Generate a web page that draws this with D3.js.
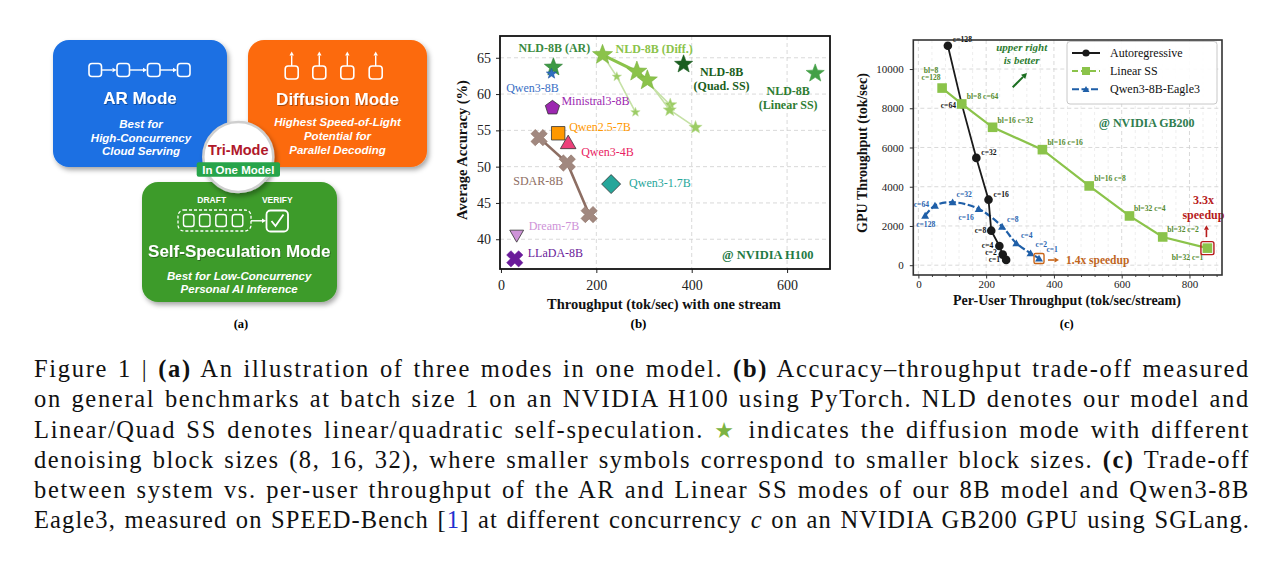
<!DOCTYPE html>
<html><head><meta charset="utf-8">
<script src="https://cdn.jsdelivr.net/npm/d3@7"></script>
<style>
html,body{margin:0;padding:0;background:#fff}
body{width:1280px;height:571px;overflow:hidden;position:relative}
#caption{position:absolute;left:34px;top:354px;width:1216px;font-family:"Liberation Serif","Times New Roman",serif;font-size:24.5px;line-height:30.3px;color:#111}
#caption div{text-align:left;text-align-last:left;height:30.3px;white-space:nowrap}
#caption div.just{text-align:justify;text-align-last:justify;white-space:normal}
#caption .ref{color:#1f2fd0}
#caption .star{color:#7cb342;font-family:"DejaVu Sans",sans-serif;font-size:22px}
</style>
</head><body>
<div id="caption">
<div>Figure 1 | <b>(a)</b> An illustration of three modes in one model. <b>(b)</b> Accuracy–throughput trade-off measured</div>
<div>on general benchmarks at batch size 1 on an NVIDIA H100 using PyTorch. NLD denotes our model and</div>
<div>Linear/Quad SS denotes linear/quadratic self-speculation. <span class="star">★</span> indicates the diffusion mode with different</div>
<div>denoising block sizes (8, 16, 32), where smaller symbols correspond to smaller block sizes. <b>(c)</b> Trade-off</div>
<div>between system vs. per-user throughput of the AR and Linear SS modes of our 8B model and Qwen3-8B</div>
<div>Eagle3, measured on SPEED-Bench [<span class="ref">1</span>] at different concurrency <i>c</i> on an NVIDIA GB200 GPU using SGLang.</div>
</div>
<script>
// ---------------- DATA: panel (b) ----------------
const bXTicks = [0, 200, 400, 600];
const bYTicks = [40, 45, 50, 55, 60, 65];
const bModels = ["Qwen3-8B", "Ministral3-8B", "Qwen2.5-7B", "Qwen3-4B", "Qwen3-1.7B", "Dream-7B", "LLaDA-8B"];
const bThroughput = [106, 108, 120, 141, 231, 33, 29];
const bAccuracy = [62.8, 58.1, 54.6, 53.1, 47.6, 40.7, 37.3];
const sdarName = "SDAR-8B";
const sdarThroughput = [80, 139, 185];
const sdarAccuracy = [54.0, 50.5, 43.4];
const nldModes = ["NLD-8B (AR)", "NLD-8B (Quad. SS)", "NLD-8B (Linear SS)"];
const nldThroughput = [110, 383, 659];
const nldAccuracy = [63.7, 64.1, 62.85];
const diffName = "NLD-8B (Diff.)";
const diffThroughput = [213, 285, 307];
const diffAccuracy = [65.4, 63.1, 61.9];
const diffTrailThroughput = [[213, 243, 282], [285, 355], [307, 354, 408]];
const diffTrailAccuracy = [[65.4, 62.4, 57.5], [63.1, 58.5], [61.9, 57.8, 55.4]];

// ---------------- DATA: panel (c) ----------------
const cXTicks = [0, 200, 400, 600, 800];
const cYTicks = [0, 2000, 4000, 6000, 8000, 10000];
const seriesNames = ["Autoregressive", "Linear SS", "Qwen3-8B-Eagle3"];
const arLabels = ["c=128", "c=64", "c=32", "c=16", "c=8", "c=4", "c=2", "c=1"];
const arPerUser = [87, 128, 171, 207, 215, 239, 249, 259];
const arGpu = [11190, 8210, 5470, 3340, 1760, 980, 540, 270];
const ssLabels = ["bl=8 c=128", "bl=8 c=64", "bl=16 c=32", "bl=16 c=16", "bl=16 c=8", "bl=32 c=4", "bl=32 c=2", "bl=32 c=1"];
const ssPerUser = [70, 128, 219, 366, 504, 623, 721, 853];
const ssGpu = [9030, 8220, 7030, 5890, 4040, 2510, 1440, 870];
const eagleLabels = ["c=128", "c=64", "c=32", "c=16", "c=8", "c=4", "c=2", "c=1"];
const eaglePerUser = [20, 49, 101, 178, 247, 289, 331, 356];
const eagleGpu = [2530, 3040, 3210, 2870, 1970, 1120, 610, 340];

// ---------------- caption fitting ----------------
document.querySelectorAll("#caption div").forEach(div=>{
  const span=document.createElement("span");
  while(div.firstChild) span.appendChild(div.firstChild);
  div.appendChild(span);
  const w=span.getBoundingClientRect().width;
  const n=span.textContent.length;
  const ls=Math.max(0,(1216-w)/n*0.85);
  span.style.letterSpacing=ls.toFixed(3)+"px";
  div.classList.add("just");
});

// ---------------- helpers ----------------
const SERIF = "'Liberation Serif','Times New Roman',serif";
const SANS = "'Liberation Sans',Arial,Helvetica,sans-serif";
function starPath(R){const r=R*0.42;const p=[];for(let i=0;i<10;i++){const a=-Math.PI/2+i*Math.PI/5;const rr=i%2?r:R;p.push([rr*Math.cos(a),rr*Math.sin(a)]);}return "M"+p.map(d=>d[0].toFixed(2)+","+d[1].toFixed(2)).join("L")+"Z";}
function polyPath(n,R,rot){const p=[];for(let i=0;i<n;i++){const a=-Math.PI/2+rot+i*2*Math.PI/n;p.push([R*Math.cos(a),R*Math.sin(a)]);}return "M"+p.map(d=>d[0].toFixed(2)+","+d[1].toFixed(2)).join("L")+"Z";}
function xPath(R){const t=0.36;const base=[[t,1],[t,t],[1,t],[1,-t],[t,-t],[t,-1],[-t,-1],[-t,-t],[-1,-t],[-1,t],[-t,t],[-t,1]];const c=Math.SQRT1_2;return "M"+base.map(([x,y])=>[(x*c-y*c)*R,(x*c+y*c)*R].map(v=>v.toFixed(2)).join(",")).join("L")+"Z";}
function arrow(g,x1,y1,x2,y2,color,w,h){const a=Math.atan2(y2-y1,x2-x1);const bx=x2-h*Math.cos(a),by=y2-h*Math.sin(a);
 g.append("line").attr("x1",x1).attr("y1",y1).attr("x2",bx).attr("y2",by).attr("stroke",color).attr("stroke-width",w);
 const p=[[x2,y2],[bx+h*0.55*Math.sin(a),by-h*0.55*Math.cos(a)],[bx-h*0.55*Math.sin(a),by+h*0.55*Math.cos(a)]];
 g.append("path").attr("d","M"+p.map(d=>d.join(",")).join("L")+"Z").attr("fill",color);}
function txt(g,x,y,s,o){const e=g.append("text").attr("x",x).attr("y",y).text(s)
 .attr("font-family",o.ff||SERIF).attr("font-size",o.fs||12).attr("fill",o.fill||"#000")
 .attr("text-anchor",o.anchor||"middle").attr("dominant-baseline","central");
 if(o.bold)e.attr("font-weight","bold"); if(o.italic)e.attr("font-style","italic"); if(o.rot)e.attr("transform",`rotate(${o.rot},${x},${y})`); if(o.filter)e.attr("filter",o.filter); return e;}

const svg = d3.select("body").append("svg").attr("width",1280).attr("height",571)
  .style("position","absolute").style("left","0").style("top","0");
const defs = svg.append("defs");
const sh = defs.append("filter").attr("id","shadow").attr("x","-20%").attr("y","-20%").attr("width","140%").attr("height","150%");
sh.append("feDropShadow").attr("dx",2).attr("dy",3).attr("stdDeviation",2.5).attr("flood-color","#000").attr("flood-opacity",0.35);
const tsh = defs.append("filter").attr("id","tshadow").attr("x","-10%").attr("y","-30%").attr("width","120%").attr("height","160%");
tsh.append("feDropShadow").attr("dx",0.8).attr("dy",1).attr("stdDeviation",0.6).attr("flood-color","#000").attr("flood-opacity",0.35);

// ================= PANEL (a) =================
const A = svg.append("g");
function box(x,y,w,h,fill){A.append("rect").attr("x",x).attr("y",y).attr("width",w).attr("height",h).attr("rx",16).attr("fill",fill).attr("filter","url(#shadow)");}
box(53,40,174,127,"#1a6fe3");
box(248,40,179,127,"#fc6b0c");
box(142,182,195,120,"#3e9b2c");
const W = "#fff";
[89,117,147.5,177.5].forEach((x,i,arr)=>{
  A.append("rect").attr("x",x).attr("y",63.5).attr("width",12.5).attr("height",13).attr("rx",3).attr("fill","none").attr("stroke",W).attr("stroke-width",1.6);
  if(i<arr.length-1) arrow(A,x+12.5,70,arr[i+1]-0.5,70,W,1.4,4);
});
txt(A,140,98,"AR Mode",{ff:SANS,fs:17,bold:true,fill:W,filter:"url(#tshadow)"});
["Best for","High-Concurrency","Cloud Serving"].forEach((s,i)=>txt(A,141,124.3+i*13.4,s,{ff:SANS,fs:11.5,bold:true,italic:true,fill:W}));
[291.7,319.3,347.3,375.7].forEach(c=>{
  A.append("rect").attr("x",c-6.5).attr("y",66).attr("width",13).attr("height",13).attr("rx",3).attr("fill","none").attr("stroke",W).attr("stroke-width",1.6);
  arrow(A,c,66,c,51.5,W,1.4,4);
});
txt(A,337.5,99,"Diffusion Mode",{ff:SANS,fs:17,bold:true,fill:W,filter:"url(#tshadow)"});
["Highest Speed-of-Light","Potential for","Parallel Decoding"].forEach((s,i)=>txt(A,337.5,122.3+i*13.8,s,{ff:SANS,fs:11.5,bold:true,italic:true,fill:W}));
A.append("rect").attr("x",178).attr("y",210).attr("width",73).attr("height",21).attr("rx",6).attr("fill","none").attr("stroke",W).attr("stroke-width",1.3).attr("stroke-dasharray","3,2");
[183.5,199.5,215.8,232.3].forEach(x=>A.append("rect").attr("x",x).attr("y",214.5).attr("width",10.5).attr("height",12).attr("rx",2.5).attr("fill","none").attr("stroke",W).attr("stroke-width",1.4));
arrow(A,251,220.8,266,220.8,W,1.4,4);
A.append("rect").attr("x",266.5).attr("y",210.5).attr("width",21.5).attr("height",21).attr("rx",4).attr("fill","none").attr("stroke",W).attr("stroke-width",1.8);
A.append("path").attr("d","M271.5,221 L275.5,226 L283.5,214.5").attr("fill","none").attr("stroke",W).attr("stroke-width",1.8);
txt(A,211.7,200,"DRAFT",{ff:SANS,fs:8.5,bold:true,fill:W});
txt(A,277.3,200,"VERIFY",{ff:SANS,fs:8.5,bold:true,fill:W});
txt(A,239.2,251,"Self-Speculation Mode",{ff:SANS,fs:17,bold:true,fill:W,filter:"url(#tshadow)"});
["Best for Low-Concurrency","Personal AI Inference"].forEach((s,i)=>txt(A,239.2,275.8+i*13.4,s,{ff:SANS,fs:11.5,bold:true,italic:true,fill:W}));
A.append("circle").attr("cx",238.3).attr("cy",157).attr("r",35).attr("fill","#fff").attr("stroke","#cfcfcf").attr("stroke-width",2.5).attr("filter","url(#shadow)");
txt(A,238.3,150,"Tri-Mode",{ff:SANS,fs:14.5,bold:true,fill:"#b0182a"});
A.append("rect").attr("x",196.7).attr("y",162.3).attr("width",83.3).attr("height",14.5).attr("rx",2).attr("fill","#27a44a");
txt(A,238.3,169.7,"In One Model",{ff:SANS,fs:11.5,bold:true,fill:W});
txt(A,241,323.5,"(a)",{fs:12.5,bold:true});

// ================= PANEL (b) =================
const B = svg.append("g");
const bL=500,bR=830,bT=36,bB=269;
const xB = d3.scaleLinear().domain([-2,690]).range([bL,bR]);
const yB = d3.scaleLinear().domain([35.9,68]).range([bB,bT]);
B.append("rect").attr("x",bL).attr("y",bT).attr("width",bR-bL).attr("height",bB-bT).attr("fill","#fff");
B.selectAll(".gx").data(bXTicks.filter(d=>d>0)).join("line").attr("x1",d=>xB(d)).attr("x2",d=>xB(d)).attr("y1",bT).attr("y2",bB)
 .attr("stroke","#cfcfcf").attr("stroke-width",0.8).attr("stroke-dasharray","4,3");
B.selectAll(".gy").data(bYTicks).join("line").attr("y1",d=>yB(d)).attr("y2",d=>yB(d)).attr("x1",bL).attr("x2",bR)
 .attr("stroke","#cfcfcf").attr("stroke-width",0.8).attr("stroke-dasharray","4,3");
const bxAxis = B.append("g").attr("transform",`translate(0,${bB})`).call(d3.axisBottom(xB).tickValues(bXTicks).tickSize(4).tickPadding(7));
const byAxis = B.append("g").attr("transform",`translate(${bL},0)`).call(d3.axisLeft(yB).tickValues(bYTicks).tickSize(4).tickPadding(5));
[bxAxis,byAxis].forEach(g=>{g.select(".domain").remove();g.selectAll("text").attr("font-family",SERIF).attr("font-size",14).attr("fill","#222");g.selectAll("line").attr("stroke","#222");});

const lineB = d3.line().x(d=>xB(d[0])).y(d=>yB(d[1]));
const sdarPts = sdarThroughput.map((v,i)=>[v,sdarAccuracy[i]]);
B.append("path").attr("d",lineB(sdarPts)).attr("fill","none").attr("stroke","#8d6e63").attr("stroke-width",2.6);
B.selectAll(".sdar").data(sdarPts).join("path").attr("d",xPath(8.5)).attr("transform",d=>`translate(${xB(d[0])},${yB(d[1])})`)
 .attr("fill","#a1887f").attr("stroke","#8d6e63").attr("stroke-width",0.6);
txt(B,xB(sdarThroughput[1])-54,yB(sdarAccuracy[1])+17.7,sdarName,{fs:12,fill:"#8d6e63",anchor:"start"});

diffTrailThroughput.forEach((tr,k)=>{
  const pts = tr.map((v,i)=>[v,diffTrailAccuracy[k][i]]);
  B.append("path").attr("d",lineB(pts)).attr("fill","none").attr("stroke","#c5e1a5").attr("stroke-width",1.6);
  B.selectAll(null).data(pts.slice(1)).join("path").attr("d",starPath(k===0?5:7)).attr("transform",d=>`translate(${xB(d[0])},${yB(d[1])})`)
   .attr("fill","#9ccc65").attr("stroke","#c5e1a5").attr("stroke-width",0.5);
});
const diffPts = diffThroughput.map((v,i)=>[v,diffAccuracy[i]]);
B.append("path").attr("d",lineB(diffPts)).attr("fill","none").attr("stroke","#8bc34a").attr("stroke-width",3);
B.selectAll(".diff").data(diffPts).join("path").attr("d",starPath(10.5)).attr("transform",d=>`translate(${xB(d[0])},${yB(d[1])})`)
 .attr("fill","#8bc34a").attr("stroke","#7cb342").attr("stroke-width",0.6);
txt(B,xB(diffThroughput[0])+13,yB(diffAccuracy[0])-6,diffName,{fs:12,bold:true,fill:"#8bc34a",anchor:"start"});

const bShapes = [starPath(5.5), polyPath(5,7.5,0), polyPath(4,9.5,Math.PI/4), polyPath(3,9,0), polyPath(4,9.5,0), polyPath(3,8,Math.PI), xPath(8.5)];
const bFill = ["#2f6fc1","#9c27b0","#ff9800","#ec407a","#26a69a","#ce93d8","#6a1b9a"];
const bText = ["#3a6fc4","#9c27b0","#ff9800","#e91e63","#26a69a","#ce93d8","#6a1b9a"];
const bLabOff = [[-19,14,"middle"],[9,-7,"start"],[11,-6,"start"],[13,8,"start"],[18,-1,"start"],[12,-8,"start"],[13,-6,"start"]];
bModels.forEach((m,i)=>{
  if(i===0) return;
  B.append("path").attr("d",bShapes[i]).attr("transform",`translate(${xB(bThroughput[i])},${yB(bAccuracy[i])})`)
   .attr("fill",bFill[i]).attr("stroke",i===6?bFill[i]:"#333").attr("stroke-width",i===6?0.5:0.8);
});
const nldFill = ["#3c9a44","#1b5e20","#43a047"];
B.append("path").attr("d",starPath(9.5)).attr("transform",`translate(${xB(nldThroughput[0])},${yB(nldAccuracy[0])})`).attr("fill",nldFill[0]).attr("stroke","#2e7d32").attr("stroke-width",0.6);
B.append("path").attr("d",bShapes[0]).attr("transform",`translate(${xB(bThroughput[0])},${yB(bAccuracy[0])})`).attr("fill",bFill[0]).attr("stroke","#1f4f9a").attr("stroke-width",0.5);
[1,2].forEach(i=>B.append("path").attr("d",starPath(9.5)).attr("transform",`translate(${xB(nldThroughput[i])},${yB(nldAccuracy[i])})`).attr("fill",nldFill[i]).attr("stroke",nldFill[i]).attr("stroke-width",0.6));
bModels.forEach((m,i)=>{const o=bLabOff[i];txt(B,xB(bThroughput[i])+o[0],yB(bAccuracy[i])+o[1],m,{fs:12,fill:bText[i],anchor:o[2]});});
txt(B,xB(nldThroughput[0])+1,yB(nldAccuracy[0])-19,nldModes[0],{fs:12,bold:true,fill:"#3a8a3f"});
const quad = nldModes[1].split(" ("); const lin = nldModes[2].split(" (");
txt(B,xB(nldThroughput[1])+38,yB(nldAccuracy[1])+8,quad[0],{fs:12,bold:true,fill:"#1b5e20"});
txt(B,xB(nldThroughput[1])+38,yB(nldAccuracy[1])+21.5,"("+quad[1],{fs:12,bold:true,fill:"#1b5e20"});
txt(B,xB(nldThroughput[2])-27,yB(nldAccuracy[2])+18,lin[0],{fs:12,bold:true,fill:"#2e7d32"});
txt(B,xB(nldThroughput[2])-27,yB(nldAccuracy[2])+32,"("+lin[1],{fs:12,bold:true,fill:"#2e7d32"});
txt(B,813.5,255,"@ NVIDIA H100",{fs:12.5,bold:true,fill:"#1f7a45",anchor:"end"});
B.append("rect").attr("x",bL).attr("y",bT).attr("width",bR-bL).attr("height",bB-bT).attr("fill","none").attr("stroke","#111").attr("stroke-width",1.8);
txt(B,664,304,"Throughput (tok/sec) with one stream",{fs:14.5,bold:true,fill:"#111"});
txt(B,462,150,"Average Accuracy (%)",{fs:14.5,bold:true,fill:"#111",rot:-90});
txt(B,638.5,323.5,"(b)",{fs:13,bold:true});

// ================= PANEL (c) =================
const C = svg.append("g");
const cL=913.3,cR=1222,cT=40,cB=275;
const xC = d3.scaleLinear().domain([-15,896]).range([cL,cR]);
const yC = d3.scaleLinear().domain([-500,11480]).range([cB,cT]);
C.append("rect").attr("x",cL).attr("y",cT).attr("width",cR-cL).attr("height",cB-cT).attr("fill","#fff");
const minorX = d3.range(0,896,40).filter(d=>d%200!==0);
C.selectAll(".mgx").data(minorX).join("line").attr("x1",d=>xC(d)).attr("x2",d=>xC(d)).attr("y1",cT).attr("y2",cB)
 .attr("stroke","#e6e6e6").attr("stroke-width",0.7).attr("stroke-dasharray","3,3");
C.selectAll(".gx").data(cXTicks).join("line").attr("x1",d=>xC(d)).attr("x2",d=>xC(d)).attr("y1",cT).attr("y2",cB)
 .attr("stroke","#cfcfcf").attr("stroke-width",0.8).attr("stroke-dasharray","4,3");
C.selectAll(".gy").data(cYTicks).join("line").attr("y1",d=>yC(d)).attr("y2",d=>yC(d)).attr("x1",cL).attr("x2",cR)
 .attr("stroke","#cfcfcf").attr("stroke-width",0.8).attr("stroke-dasharray","4,3");
const cxAxis = C.append("g").attr("transform",`translate(0,${cB})`).call(d3.axisBottom(xC).tickValues(cXTicks).tickSize(3.5).tickPadding(1.5));
C.append("g").attr("transform",`translate(0,${cB})`).call(d3.axisBottom(xC).tickValues(minorX).tickSize(2).tickFormat(""))
 .call(g=>{g.select(".domain").remove();g.selectAll("line").attr("stroke","#444");});
const cyAxis = C.append("g").attr("transform",`translate(${cL},0)`).call(d3.axisLeft(yC).tickValues(cYTicks).tickSize(3.5).tickPadding(6).tickFormat(d3.format("d")));
[cxAxis,cyAxis].forEach(g=>{g.select(".domain").remove();g.selectAll("text").attr("font-family",SERIF).attr("font-size",11).attr("fill","#222");g.selectAll("line").attr("stroke","#333");});

const lineC = d3.line().x(d=>xC(d[0])).y(d=>yC(d[1]));
const arPts = arPerUser.map((v,i)=>[v,arGpu[i]]);
const ssPts = ssPerUser.map((v,i)=>[v,ssGpu[i]]);
const eaPts = eaglePerUser.map((v,i)=>[v,eagleGpu[i]]);
const cCol = ["#1a1a1a","#8bc34a","#1f5fa8"];
C.append("path").attr("d",lineC.curve(d3.curveCatmullRom.alpha(0.5))(eaPts)).attr("fill","none").attr("stroke",cCol[2]).attr("stroke-width",2.2).attr("stroke-dasharray","7,2.5");
lineC.curve(d3.curveLinear);
C.append("path").attr("d",lineC(arPts)).attr("fill","none").attr("stroke",cCol[0]).attr("stroke-width",1.8);
C.selectAll(".arp").data(arPts).join("circle").attr("cx",d=>xC(d[0])).attr("cy",d=>yC(d[1])).attr("r",4.3).attr("fill",cCol[0]);
C.append("path").attr("d",lineC(ssPts)).attr("fill","none").attr("stroke",cCol[1]).attr("stroke-width",2.2);
C.selectAll(".ssp").data(ssPts).join("rect").attr("x",d=>xC(d[0])-4.8).attr("y",d=>yC(d[1])-4.8).attr("width",9.6).attr("height",9.6).attr("fill",cCol[1]);
C.selectAll(".eap").data(eaPts).join("path").attr("d",polyPath(3,4.6,0)).attr("transform",d=>`translate(${xC(d[0])},${yC(d[1])+0.8})`).attr("fill",cCol[2]);

const arOff = [[5,-5.7,"start"],[-5.7,1.7,"end"],[5,-5,"start"],[5,-5,"start"],[-5,0,"end"],[-6,-0.3,"end"],[-6,-1.8,"end"],[-6,0,"end"]];
const ssOff = [null,[5,-7,"start"],[5,-7,"start"],[5,-7,"start"],[5,-7,"start"],[4.5,-7,"start"],[4.5,-7,"start"],[-4,9.5,"end"]];
const eaOff = [[-9,8.5,"start"],[-6,-1,"end"],[4,-7.5,"start"],[-5,9,"end"],[5,-7.5,"start"],[4.7,-7.6,"start"],[5,-8.6,"start"],[7.4,-8.6,"start"]];
const LFS = 7.6;
arLabels.forEach((s,i)=>{const o=arOff[i];txt(C,xC(arPerUser[i])+o[0],yC(arGpu[i])+o[1],s,{fs:LFS,bold:true,fill:"#111",anchor:o[2]});});
ssLabels.forEach((s,i)=>{
  if(i===0){const p=s.split(" ");txt(C,xC(ssPerUser[i])-11,yC(ssGpu[i])-18,p[0],{fs:LFS,bold:true,fill:"#558b2f"});txt(C,xC(ssPerUser[i])-11,yC(ssGpu[i])-10.5,p[1],{fs:LFS,bold:true,fill:"#558b2f"});return;}
  const o=ssOff[i];txt(C,xC(ssPerUser[i])+o[0],yC(ssGpu[i])+o[1],s,{fs:LFS,bold:true,fill:"#558b2f",anchor:o[2]});});
eagleLabels.forEach((s,i)=>{const o=eaOff[i];txt(C,xC(eaglePerUser[i])+o[0],yC(eagleGpu[i])+o[1],s,{fs:LFS,bold:true,fill:"#2a65b0",anchor:o[2]});});

const eLast = eaPts[eaPts.length-1], sLast = ssPts[ssPts.length-1];
C.append("rect").attr("x",xC(eLast[0])-5).attr("y",yC(eLast[1])-5).attr("width",10).attr("height",10).attr("rx",1.5).attr("fill","none").attr("stroke","#c8661a").attr("stroke-width",1.4);
arrow(C,xC(eLast[0])+9,yC(eLast[1])+1.5,xC(eLast[0])+20,yC(eLast[1])+1.5,"#c8661a",1.6,4.5);
txt(C,xC(eLast[0])+27,yC(eLast[1])+1.5,"1.4x speedup",{fs:11.5,bold:true,fill:"#c0661e",anchor:"start"});
C.append("rect").attr("x",xC(sLast[0])-6.5).attr("y",yC(sLast[1])-6.5).attr("width",13).attr("height",13).attr("rx",2).attr("fill","none").attr("stroke","#b71c1c").attr("stroke-width",1.4);
arrow(C,xC(sLast[0])-1,yC(sLast[1])-11,xC(sLast[0])-1,yC(sLast[1])-23,"#b71c1c",1.6,4.5);
txt(C,xC(sLast[0])-4,199.5,"3.3x",{fs:12,bold:true,fill:"#b71c1c"});
txt(C,xC(sLast[0])-4,214.5,"speedup",{fs:12,bold:true,fill:"#b71c1c"});
txt(C,1021.7,46.7,"upper right",{fs:11,bold:true,italic:true,fill:"#2e7d32"});
txt(C,1021.7,60,"is better",{fs:11,bold:true,italic:true,fill:"#2e7d32"});
arrow(C,1012.7,87.3,1027,73,"#1b6e20",2,5.5);
txt(C,1146.7,123.3,"@ NVIDIA GB200",{fs:12,bold:true,fill:"#2e7d4f"});
const lg = C.append("g");
lg.append("rect").attr("x",1067).attr("y",41.5).attr("width",150).attr("height",62.5).attr("rx",3).attr("fill","#fff").attr("fill-opacity",0.9).attr("stroke","#c8c8c8").attr("stroke-width",1);
const legY = [53,71,89.3];
seriesNames.forEach((s,i)=>{
  const y=legY[i];
  lg.append("line").attr("x1",1072).attr("x2",1100).attr("y1",y).attr("y2",y).attr("stroke",cCol[i]).attr("stroke-width",2)
    .attr("stroke-dasharray",i===0?null:(i===1?"6,3":"7,2.5"));
  if(i===0) lg.append("circle").attr("cx",1086).attr("cy",y).attr("r",3.6).attr("fill",cCol[0]);
  if(i===1) lg.append("rect").attr("x",1082).attr("y",y-4).attr("width",8).attr("height",8).attr("fill",cCol[1]);
  if(i===2) lg.append("path").attr("d",polyPath(3,4,0)).attr("transform",`translate(1086,${y+0.6})`).attr("fill",cCol[2]);
  txt(lg,1110,y,s,{fs:12,fill:"#111",anchor:"start"});
});
C.append("rect").attr("x",cL).attr("y",cT).attr("width",cR-cL).attr("height",cB-cT).attr("fill","none").attr("stroke","#333").attr("stroke-width",1.6);
txt(C,1067,300.7,"Per-User Throughput (tok/sec/stream)",{fs:14,bold:true,fill:"#111"});
txt(C,862,153,"GPU Throughput (tok/sec)",{fs:14,bold:true,fill:"#111",rot:-90});
txt(C,1066.7,323.5,"(c)",{fs:12.5,bold:true});
</script>
</body></html>
